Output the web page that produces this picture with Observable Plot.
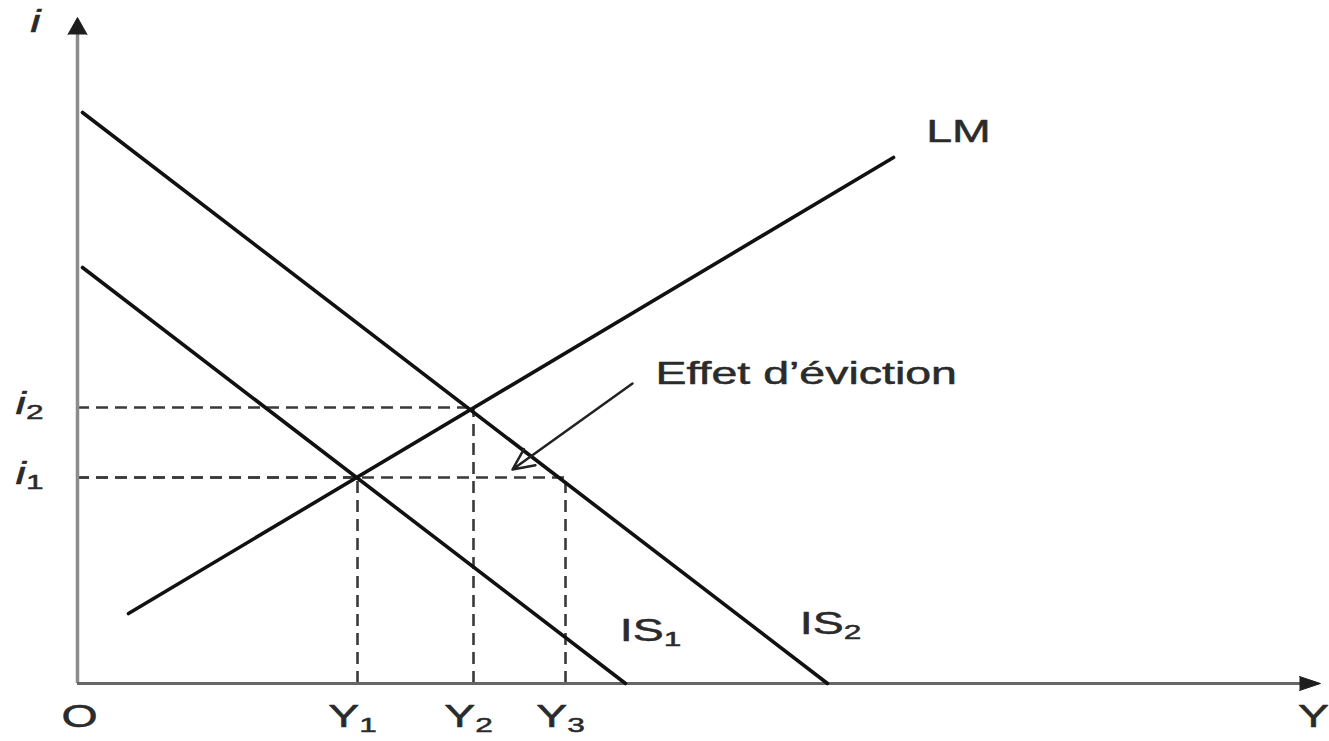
<!DOCTYPE html>
<html>
<head>
<meta charset="utf-8">
<script src="https://cdn.jsdelivr.net/npm/d3@7"></script>
<script src="https://cdn.jsdelivr.net/npm/@observablehq/plot@0.6"></script>
<style>
  html, body { margin: 0; padding: 0; background: #fff; }
  svg { display: block; }
</style>
</head>
<body>
<div id="chart"></div>
<script>
// IS-LM diagram: a fiscal expansion shifts IS1 to IS2, the crowding-out effect
// ("effet d'éviction") is the gap between Y3 and Y2.

// Curves, as segment end points (Y = output, i = interest rate)
const IS1 = [{Y: 0.5, i: 41.6}, {Y: 54.8, i: 0}];
const IS2 = [{Y: 0.5, i: 57.1}, {Y: 75.0, i: 0}];
const LM  = [{Y: 5.1, i: 7.0}, {Y: 81.6, i: 52.6}];

// Equilibria and the Y3 point reached at unchanged rate i1
const guides = [
  {Y: 28.0, i: 20.6},   // Y1, i1
  {Y: 39.6, i: 27.6},   // Y2, i2
  {Y: 48.8, i: 20.6}    // Y3, i1
];

// Tick labels (base letter + subscript)
const incomeTicks = [
  {base: "Y", sub: "1", value: 28.0},
  {base: "Y", sub: "2", value: 39.6},
  {base: "Y", sub: "3", value: 48.8}
];
const rateTicks = [
  {base: "i", sub: "2", value: 27.6},
  {base: "i", sub: "1", value: 20.6}
];

// Annotation arrow for the crowding-out effect
const evictionArrow = [{Y1: 55.5, i1: 30.0, Y2: 43.5, i2: 21.4}];

const xMax = 124.3, yMax = 66.6;
const ink = "#2b2b2b";
const fs = 31;

const hasSpike = typeof Plot.spike === "function";
const axisHeads = hasSpike
  ? [
      Plot.vector([{Y: 0, i: yMax}], {x: "Y", y: "i", length: 17, r: 9.5, rotate: 0, shape: "spike", anchor: "end", fill: "#1e1e1e", stroke: "#1e1e1e", strokeWidth: 1}),
      Plot.vector([{Y: xMax, i: 0}], {x: "Y", y: "i", length: 21, r: 7, rotate: 90, shape: "spike", anchor: "end", fill: "#1e1e1e", stroke: "#1e1e1e", strokeWidth: 1})
    ]
  : [
      Plot.arrow([{Y1: 0, i1: yMax - 2, Y2: 0, i2: yMax}], {x1: "Y1", y1: "i1", x2: "Y2", y2: "i2", stroke: "#1e1e1e", strokeWidth: 3, headLength: 17, headAngle: 60}),
      Plot.arrow([{Y1: xMax - 2, i1: 0, Y2: xMax, i2: 0}], {x1: "Y1", y1: "i1", x2: "Y2", y2: "i2", stroke: "#1e1e1e", strokeWidth: 3, headLength: 20, headAngle: 45})
    ];

const sub = (d) => `${d.base}_${d.sub}`;
const textStyle = {fontSize: fs, fill: ink, stroke: ink, strokeWidth: 0.5};

const svg = Plot.plot({
  width: 1329,
  height: 741,
  marginLeft: 77,
  marginRight: 9,
  marginTop: 17,
  marginBottom: 58,
  x: {domain: [0, xMax], axis: null},
  y: {domain: [0, yMax], axis: null},
  style: {fontFamily: "'Liberation Sans', Arial, sans-serif", fontSize: `${fs}px`, color: ink, background: "#fff"},
  marks: [
    // dashed guides
    Plot.ruleX(guides, {x: "Y", y1: 0, y2: "i", stroke: "#3a3a3a", strokeWidth: 2.6, strokeDasharray: "12,7"}),
    Plot.ruleY(guides, {y: "i", x1: 0, x2: "Y", stroke: "#3a3a3a", strokeWidth: 2.6, strokeDasharray: "12,7"}),

    // axes
    Plot.ruleX([0], {y1: 0, y2: yMax - 1.2, stroke: "#8c8c8c", strokeWidth: 3.5}),
    Plot.ruleY([0], {x1: 0, x2: xMax - 1.2, stroke: "#666", strokeWidth: 3}),
    ...axisHeads,

    // curves
    Plot.line(IS1, {x: "Y", y: "i", stroke: "#111", strokeWidth: 3.6}),
    Plot.line(IS2, {x: "Y", y: "i", stroke: "#111", strokeWidth: 3.6}),
    Plot.line(LM,  {x: "Y", y: "i", stroke: "#111", strokeWidth: 3.6}),

    // crowding-out annotation
    Plot.arrow(evictionArrow, {x1: "Y1", y1: "i1", x2: "Y2", y2: "i2", stroke: "#222", strokeWidth: 2.5, headLength: 14, headAngle: 50}),
    Plot.text(evictionArrow, {x: "Y1", y: "i1", text: () => "Effet d’éviction", textAnchor: "start", dx: 23, dy: -9, ...textStyle}),

    // curve labels
    Plot.text([LM[1]],  {x: "Y", y: "i", text: () => "LM", dx: 65, dy: -25, ...textStyle}),
    Plot.text([IS1[1]], {x: "Y", y: "i", text: () => "IS_1", dx: 25, dy: -52, ...textStyle}),
    Plot.text([IS2[1]], {x: "Y", y: "i", text: () => "IS_2", dx: 3, dy: -59, ...textStyle}),

    // axis labels
    Plot.text([{Y: 0, i: yMax}], {x: "Y", y: "i", text: () => "i", dx: -42, dy: 5, fontStyle: "italic", ...textStyle}),
    Plot.text([{Y: xMax, i: 0}], {x: "Y", y: "i", text: () => "Y", dx: -7, dy: 34, ...textStyle}),
    Plot.text([{Y: 0, i: 0}], {x: "Y", y: "i", text: () => "O", dx: 2, dy: 34, ...textStyle}),

    // tick labels
    Plot.text(incomeTicks, {x: "value", y: 0, text: sub, dx: -5, dy: 34, ...textStyle}),
    Plot.text(rateTicks, {x: 0, y: "value", text: sub, dx: -48, dy: -3, fontStyle: "italic", ...textStyle})
  ]
});

// Widen the lettering horizontally and turn "X_n" into a subscript
d3.select(svg).selectAll("text").each(function () {
  const t = d3.select(this);
  let tr = t.attr("transform");
  if (!tr) {
    const x = +t.attr("x") || 0, y = +t.attr("y") || 0;
    t.attr("x", null).attr("y", null);
    tr = `translate(${x},${y})`;
  }
  t.attr("transform", `${tr} scale(1.5,1)`);
  const s = t.text();
  if (s.includes("_")) {
    const [a, b] = s.split("_");
    t.text(a);
    t.append("tspan").attr("font-size", "0.68em").attr("font-style", "normal").attr("dy", "0.2em").text(b);
  }
});

document.getElementById("chart").appendChild(svg);
</script>
</body>
</html>
